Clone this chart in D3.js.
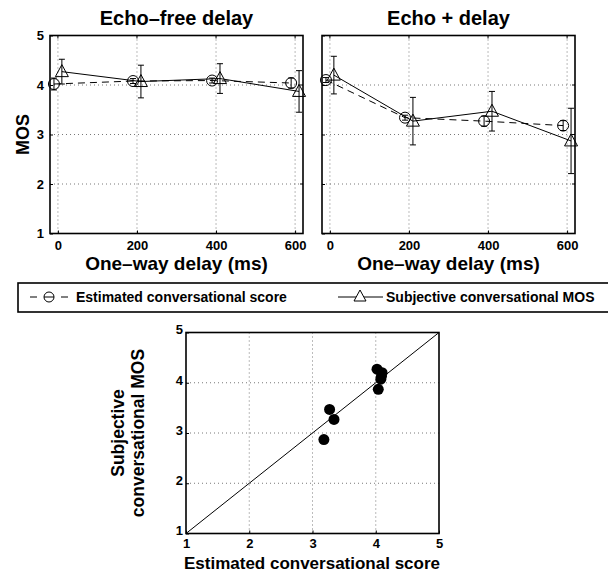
<!DOCTYPE html>
<html>
<head>
<meta charset="utf-8">
<script src="https://cdn.jsdelivr.net/npm/d3@7"></script>
<style>
  body { margin: 0; background: #fff; }
  svg text { font-family: "Liberation Sans", Arial, sans-serif; font-weight: bold; fill: #000; }
</style>
</head>
<body>
<script>
// data
var delays      = [0, 200, 400, 600];
var estFree     = [4.02, 4.08, 4.09, 4.04];
var estFreeErr  = [0.12, 0.05, 0.05, 0.1];
var subjFree    = [4.27, 4.07, 4.13, 3.87];
var subjFreeErr = [0.25, 0.33, 0.3, 0.42];
var estEcho     = [4.1, 3.34, 3.27, 3.18];
var estEchoErr  = [0.05, 0.05, 0.1, 0.1];
var subjEcho    = [4.2, 3.27, 3.47, 2.87];
var subjEchoErr = [0.38, 0.48, 0.4, 0.66];
var mosTicks    = [1, 2, 3, 4, 5];

var svg = d3.select('body').append('svg')
    .attr('width', 608)
    .attr('height', 576);

/**
 * draw a delay panel
 */
function panel(left, title, est, estErr, subj, subjErr, showYLabel) {
    var top = 35.5, w = 253, h = 198;
    var x = d3.scaleLinear().domain([-20, 620]).range([left, left + w]);
    var y = d3.scaleLinear().domain([1, 5]).range([top + h, top]);
    var g = svg.append('g');

    // grid
    g.selectAll('.vgrid').data(delays).enter().append('line')
        .attr('x1', d => x(d)).attr('x2', d => x(d))
        .attr('y1', top).attr('y2', top + h)
        .attr('stroke', '#555').attr('stroke-width', 0.8).attr('stroke-dasharray', '1,3');
    g.selectAll('.hgrid').data(mosTicks.slice(1, 4)).enter().append('line')
        .attr('x1', left).attr('x2', left + w)
        .attr('y1', d => y(d)).attr('y2', d => y(d))
        .attr('stroke', '#555').attr('stroke-width', 0.8).attr('stroke-dasharray', '1,3');

    // axes
    var xa = g.append('g').attr('transform', 'translate(0,' + (top + h) + ')')
        .call(d3.axisBottom(x).tickValues(delays).tickFormat(d3.format('d')).tickSize(-3).tickPadding(7));
    var ya = g.append('g').attr('transform', 'translate(' + left + ',0)')
        .call(d3.axisLeft(y).tickValues(mosTicks).tickSize(-3).tickPadding(6)
            .tickFormat(showYLabel ? d3.format('d') : ''));
    [xa, ya].forEach(function(a) {
        a.select('.domain').remove();
        a.selectAll('text').style('font-size', '13px');
        a.selectAll('line').attr('stroke', '#000');
    });
    // top + right ticks
    g.selectAll('.tt').data(delays).enter().append('line')
        .attr('x1', d => x(d)).attr('x2', d => x(d)).attr('y1', top).attr('y2', top + 3).attr('stroke', '#000');
    g.selectAll('.rt').data(mosTicks).enter().append('line')
        .attr('x1', left + w).attr('x2', left + w - 3).attr('y1', d => y(d)).attr('y2', d => y(d)).attr('stroke', '#000');

    g.append('rect').attr('x', left).attr('y', top).attr('width', w).attr('height', h)
        .attr('fill', 'none').attr('stroke', '#000').attr('stroke-width', 1.6);

    // estimated: dashed line + circles, offset -10 ms; subjective: +10 ms
    var estPts = delays.map((d, i) => ({ x: d - 10, v: est[i], e: estErr[i] }));
    var subjPts = delays.map((d, i) => ({ x: d + 10, v: subj[i], e: subjErr[i] }));
    var line = d3.line().x(d => x(d.x)).y(d => y(d.v));

    g.append('path').datum(estPts).attr('d', line)
        .attr('fill', 'none').attr('stroke', '#000').attr('stroke-width', 1).attr('stroke-dasharray', '7,5');
    g.append('path').datum(subjPts).attr('d', line)
        .attr('fill', 'none').attr('stroke', '#000').attr('stroke-width', 1);

    // error bars
    [estPts, subjPts].forEach(function(pts) {
        pts.forEach(function(d) {
            g.append('line').attr('x1', x(d.x)).attr('x2', x(d.x))
                .attr('y1', y(d.v - d.e)).attr('y2', y(d.v + d.e)).attr('stroke', '#000').attr('stroke-width', 1);
            [d.v - d.e, d.v + d.e].forEach(function(c) {
                g.append('line').attr('x1', x(d.x) - 3).attr('x2', x(d.x) + 3)
                    .attr('y1', y(c)).attr('y2', y(c)).attr('stroke', '#000').attr('stroke-width', 1);
            });
        });
    });

    // markers
    g.selectAll('.circ').data(estPts).enter().append('circle')
        .attr('cx', d => x(d.x)).attr('cy', d => y(d.v)).attr('r', 5.5)
        .attr('fill', 'none').attr('stroke', '#000').attr('stroke-width', 1);
    g.selectAll('.tri').data(subjPts).enter().append('path')
        .attr('d', d => 'M' + x(d.x) + ',' + (y(d.v) - 7) + 'L' + (x(d.x) + 6.5) + ',' + (y(d.v) + 5)
            + 'L' + (x(d.x) - 6.5) + ',' + (y(d.v) + 5) + 'Z')
        .attr('fill', 'none').attr('stroke', '#000').attr('stroke-width', 1);

    // titles
    svg.append('text').attr('x', left + w / 2).attr('y', 25).attr('text-anchor', 'middle')
        .style('font-size', '20px').text(title);
    svg.append('text').attr('x', left + w / 2).attr('y', 270).attr('text-anchor', 'middle')
        .style('font-size', '19px').text('One\u2013way delay (ms)');
    if (showYLabel) {
        svg.append('text').attr('transform', 'translate(29,' + (top + h / 2) + ') rotate(-90)')
            .attr('text-anchor', 'middle').style('font-size', '18px').text('MOS');
    }
}

panel(50, 'Echo\u2013free delay', estFree, estFreeErr, subjFree, subjFreeErr, true);
panel(322, 'Echo + delay', estEcho, estEchoErr, subjEcho, subjEchoErr, false);

// legend
var lg = svg.append('g');
lg.append('rect').attr('x', 18).attr('y', 283).attr('width', 600).attr('height', 29)
    .attr('fill', '#fff').attr('stroke', '#000').attr('stroke-width', 1.6);
lg.append('line').attr('x1', 30).attr('x2', 68).attr('y1', 297).attr('y2', 297)
    .attr('stroke', '#000').attr('stroke-dasharray', '7,24');
lg.append('circle').attr('cx', 49).attr('cy', 297).attr('r', 5).attr('fill', '#fff').attr('stroke', '#000');
lg.append('line').attr('x1', 44).attr('x2', 54).attr('y1', 297).attr('y2', 297).attr('stroke', '#000');
lg.append('text').attr('x', 76).attr('y', 302).style('font-size', '14px').text('Estimated conversational score');
lg.append('line').attr('x1', 338).attr('x2', 383).attr('y1', 297).attr('y2', 297).attr('stroke', '#000');
lg.append('path').attr('d', 'M360,290L366,301L354,301Z').attr('fill', '#fff').attr('stroke', '#000');
lg.append('text').attr('x', 386).attr('y', 302).style('font-size', '14px').text('Subjective conversational MOS');

// scatter
var sx = d3.scaleLinear().domain([1, 5]).range([186, 439]);
var sy = d3.scaleLinear().domain([1, 5]).range([533.5, 332.5]);
var sg = svg.append('g');
sg.selectAll('.vg').data(mosTicks.slice(1, 4)).enter().append('line')
    .attr('x1', d => sx(d)).attr('x2', d => sx(d)).attr('y1', sy(1)).attr('y2', sy(5))
    .attr('stroke', '#555').attr('stroke-width', 0.8).attr('stroke-dasharray', '1,3');
sg.selectAll('.hg').data(mosTicks.slice(1, 4)).enter().append('line')
    .attr('x1', sx(1)).attr('x2', sx(5)).attr('y1', d => sy(d)).attr('y2', d => sy(d))
    .attr('stroke', '#555').attr('stroke-width', 0.8).attr('stroke-dasharray', '1,3');
var sxa = sg.append('g').attr('transform', 'translate(0,' + sy(1) + ')')
    .call(d3.axisBottom(sx).tickValues(mosTicks).tickFormat(d3.format('d')).tickSize(-3).tickPadding(5));
var sya = sg.append('g').attr('transform', 'translate(' + sx(1) + ',0)')
    .call(d3.axisLeft(sy).tickValues(mosTicks).tickFormat(d3.format('d')).tickSize(-3).tickPadding(3));
[sxa, sya].forEach(function(a) {
    a.select('.domain').remove();
    a.selectAll('text').style('font-size', '13px');
    a.selectAll('line').attr('stroke', '#000');
});
sya.selectAll('text').attr('dy', '0.1em');
sg.append('rect').attr('x', sx(1)).attr('y', sy(5)).attr('width', sx(5) - sx(1)).attr('height', sy(1) - sy(5))
    .attr('fill', 'none').attr('stroke', '#000').attr('stroke-width', 1.6);
sg.append('line').attr('x1', sx(1)).attr('y1', sy(1)).attr('x2', sx(5)).attr('y2', sy(5))
    .attr('stroke', '#000').attr('stroke-width', 1);

var pairs = estFree.map((e, i) => [e, subjFree[i]]).concat(estEcho.map((e, i) => [e, subjEcho[i]]));
sg.selectAll('.dot').data(pairs).enter().append('circle')
    .attr('cx', d => sx(d[0])).attr('cy', d => sy(d[1])).attr('r', 5.5).attr('fill', '#000');

svg.append('text').attr('x', 312).attr('y', 569).attr('text-anchor', 'middle')
    .style('font-size', '17px').text('Estimated conversational score');
svg.append('text').attr('transform', 'translate(124,433) rotate(-90)')
    .attr('text-anchor', 'middle').style('font-size', '17.5px').text('Subjective');
svg.append('text').attr('transform', 'translate(144,433) rotate(-90)')
    .attr('text-anchor', 'middle').style('font-size', '17.5px').text('conversational MOS');
</script>
</body>
</html>
